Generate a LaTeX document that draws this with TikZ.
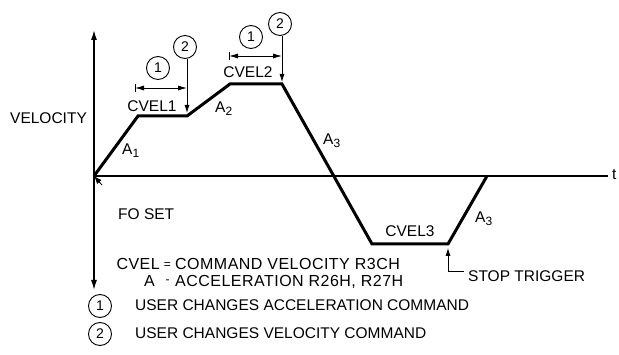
\documentclass[tikz,border=0pt]{standalone}
\usepackage{fontspec}
\setmainfont{Liberation Sans}
\usetikzlibrary{arrows.meta}
\newcommand\subidx[1]{\raisebox{-0.3ex}{\fontsize{12}{13}\selectfont #1}}
\begin{document}
\begin{tikzpicture}[x=1pt,y=-1pt,
  lbl/.style={inner sep=0pt, font=\fontsize{15.5}{18}\selectfont},
  lgd/.style={inner sep=0pt, font=\fontsize{16}{18}\selectfont\addfontfeature{LetterSpace=3}},
  sym/.style={inner sep=0pt, font=\fontsize{12}{14}\selectfont},
  num/.style={circle, draw, line width=0.9pt, minimum size=23pt, inner sep=0pt, font=\fontsize{14}{16}\selectfont},
  axis/.style={line width=1.3pt},
  axisarrows/.style={line width=1.3pt, {Latex[length=10pt,width=6pt]}-{Latex[length=10pt,width=6pt]}},
  profile/.style={line width=3pt, line join=miter},
  dim/.style={line width=0.8pt, {Latex[length=9pt,width=5pt]}-{Latex[length=9pt,width=5pt]}},
  lead/.style={line width=0.8pt, -{Latex[length=8pt,width=5pt]}}]
\useasboundingbox (0,0) rectangle (619,355);

% axes
\coordinate (O) at (94,176);
\coordinate (vtop) at (94,30);
\coordinate (vbot) at (94,290);
\coordinate (tend) at (608,176);
\draw[axisarrows] (vbot) -- (vtop);
\draw[axis] (O) -- (tend);
\node[lbl, anchor=base west] (t) at (612,180) {t};
\node[lbl, anchor=base west] (vel) at (10,124) {VELOCITY};

% velocity profile
\coordinate (P1) at (138,116);
\coordinate (P2) at (187,116);
\coordinate (P3) at (230,84);
\coordinate (P4) at (282,84);
\coordinate (P5) at (372,244);
\coordinate (P6) at (448,244);
\coordinate (P7) at (487,176);
\draw[profile] (O) -- (P1) -- (P2) -- (P3) -- (P4) -- (P5) -- (P6) -- (P7);

% profile labels
\node[lbl, anchor=base] (cv1) at (152,112) {CVEL1};
\node[lbl, anchor=base] (cv2) at (248,78) {CVEL2};
\node[lbl, anchor=base] (cv3) at (410,237) {CVEL3};
\node[lbl, anchor=base west] (a1) at (122,155) {A\subidx{1}};
\node[lbl, anchor=base west] (a2) at (215,113) {A\subidx{2}};
\node[lbl, anchor=base west] (a3u) at (323,145) {A\subidx{3}};
\node[lbl, anchor=base west] (a3l) at (475,223) {A\subidx{3}};

% first pair of user changes
\coordinate (d1l) at (135,88);
\coordinate (d1r) at (187,88);
\draw[dim] (d1l) -- (d1r);
\draw[line width=0.8pt] (d1l) ++(0,-4) -- ++(0,8);
\node[num] (n1a) at (158,68) {1};
\node[num] (n2a) at (185,47) {2};
\draw[lead] (n2a.south -| P2) -- ([yshift=3pt]P2);

% second pair of user changes
\coordinate (d2l) at (229,56);
\coordinate (d2r) at (282,56);
\draw[dim] (d2l) -- (d2r);
\draw[line width=0.8pt] (d2l) ++(0,-4) -- ++(0,8);
\node[num] (n1b) at (251,37) {1};
\node[num] (n2b) at (280,24) {2};
\draw[lead] (n2b.south -| P4) -- ([yshift=2pt]P4);

% FO set marker
\node[lbl, anchor=base west] (fo) at (118,220) {FO SET};
\coordinate (fotail) at (102,185);
\draw[line width=0.8pt, -{Latex[length=8pt,width=6pt]}] (fotail) -- (O);

% stop trigger
\node[lbl, anchor=base west] (stop) at (468,282) {STOP TRIGGER};
\draw[lead] ([xshift=-4pt,yshift=5pt]stop.west) -| ([yshift=-4pt]P6);

% legend
\node[lgd, anchor=base east] (cvk) at (160,270) {CVEL};
\node[sym, anchor=base] (eq) at (167.5,269) {=};
\node[lgd, anchor=base west] (cvd) at (175,270) {COMMAND VELOCITY R3CH};
\node[lgd, anchor=base east] (ak) at (155,287) {A};
\node[sym, anchor=base] (mi) at (167.5,284) {-};
\node[lgd, anchor=base west] (ad) at (175,287) {ACCELERATION R26H, R27H};

\node[num] (k1) at (100,306) {1};
\node[lbl, anchor=base west] (k1t) at (135,311) {USER CHANGES ACCELERATION COMMAND};
\node[num] (k2) at (100,334) {2};
\node[lbl, anchor=base west] (k2t) at (135,339) {USER CHANGES VELOCITY COMMAND};
\end{tikzpicture}
\end{document}
